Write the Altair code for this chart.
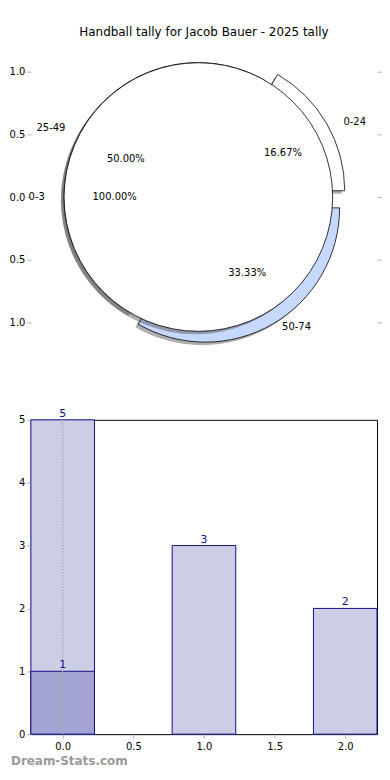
import altair as alt
import pandas as pd

# ---------------- data ----------------
TITLE = "Handball tally for Jacob Bauer - 2025 tally"
WATERMARK = "Dream-Stats.com"

outer_labels = ["0-24", "25-49", "50-74"]
outer_counts = [1, 3, 2]
inner_labels = ["0-3"]
inner_counts = [1]

bar_x = [0, 1, 2]
bar_values = [5, 3, 2]
overlay_x = [0]
overlay_values = [1]

pie_ticks = [-1.0, -0.5, 0.0, 0.5, 1.0]
bar_xticks = [0.0, 0.5, 1.0, 1.5, 2.0]
bar_yticks = [0, 1, 2, 3, 4, 5]

# ---------------- styles ----------------
FONT = "DejaVu Sans"
OUTER_COLORS = ["white", "white", "#c6d8fc"]
INNER_COLORS = ["white"]
OUTER_EXPLODE = [0.1, 0.0, 0.1]
INNER_EXPLODE = [0.0]
RADIUS = 135
BAR_W = 0.45
BAR_FILL = "#cdcde6"
OVERLAY_FILL = "#a4a4d2"
NAVY = "#10108a"
TICK = "#b0b0b0"
W = 348

XS = alt.Scale(domain=[-1.2, 1.28], nice=False, zero=False)
YS = alt.Scale(domain=[-1.2, 1.2], nice=False, zero=False)


def pie_table(labels, counts, colors, explode):
    return pd.DataFrame({
        "label": labels,
        "n": counts,
        "idx": list(range(len(labels))),
        "fill": colors,
        "explode": explode,
    })


def pie_base(df):
    return (
        alt.Chart(df)
        .transform_joinaggregate(total="sum(n)")
        .transform_window(cum="sum(n)", sort=[alt.SortField("idx")], frame=[None, 0])
        .transform_calculate(a0="2*PI*(datum.cum-datum.n)/datum.total")
        .transform_calculate(a1="2*PI*datum.cum/datum.total")
        .transform_calculate(mid="(datum.a0+datum.a1)/2")
        .transform_calculate(t0="PI/2-datum.a1")
        .transform_calculate(t1="PI/2-datum.a0")
        .transform_calculate(cx="datum.explode*cos(datum.mid)")
        .transform_calculate(cy="datum.explode*sin(datum.mid)")
        .transform_calculate(lx="(datum.explode+1.1)*cos(datum.mid)")
        .transform_calculate(ly="(datum.explode+1.1)*sin(datum.mid)")
        .transform_calculate(px="(datum.explode+0.6)*cos(datum.mid)")
        .transform_calculate(py="(datum.explode+0.6)*sin(datum.mid)")
        .transform_calculate(pct="format(datum.n/datum.total, '.2%')")
    )


def pie_layers(base):
    pos = dict(
        x=alt.X("cx:Q", scale=XS, axis=None),
        y=alt.Y("cy:Q", scale=YS, axis=None),
        theta=alt.Theta("t0:Q", scale=None),
        theta2=alt.Theta2("t1"),
    )
    shadow = base.mark_arc(radius=RADIUS, fill="#4d4d4d", opacity=0.45,
                           xOffset=-3, yOffset=3).encode(**pos)
    slices = base.mark_arc(radius=RADIUS, stroke="black", strokeWidth=0.8).encode(
        fill=alt.Fill("fill:N", scale=None), **pos)
    return shadow, slices


def pie_texts(base):
    lab_r = base.transform_filter("cos(datum.mid) > 0").mark_text(
        align="left", baseline="middle", fontSize=10, font=FONT, color="black"
    ).encode(x=alt.X("lx:Q", scale=XS, axis=None), y=alt.Y("ly:Q", scale=YS, axis=None),
             text="label:N")
    lab_l = base.transform_filter("cos(datum.mid) <= 0").mark_text(
        align="right", baseline="middle", fontSize=10, font=FONT, color="black"
    ).encode(x=alt.X("lx:Q", scale=XS, axis=None), y=alt.Y("ly:Q", scale=YS, axis=None),
             text="label:N")
    pct = base.mark_text(align="center", baseline="middle", fontSize=10, font=FONT,
                         color="black").encode(
        x=alt.X("px:Q", scale=XS, axis=None), y=alt.Y("py:Q", scale=YS, axis=None),
        text="pct:N")
    return lab_r, lab_l, pct


outer_base = pie_base(pie_table(outer_labels, outer_counts, OUTER_COLORS, OUTER_EXPLODE))
inner_base = pie_base(pie_table(inner_labels, inner_counts, INNER_COLORS, INNER_EXPLODE))

left_axis = alt.Axis(values=pie_ticks, labelExpr="format(abs(datum.value), '.1f')",
                     domain=False, grid=False, ticks=True, tickColor=TICK, tickSize=4,
                     labelFontSize=10, labelFont=FONT, labelColor="black", labelPadding=2,
                     title=None, minExtent=20)
right_axis = alt.Axis(values=pie_ticks, orient="right", labels=False, domain=False,
                      grid=False, tickColor=TICK, tickSize=4, title=None)

axis_left_layer = outer_base.mark_point(opacity=0).encode(
    x=alt.X("cx:Q", scale=XS, axis=None), y=alt.Y("cy:Q", scale=YS, axis=left_axis))
axis_right_layer = outer_base.mark_point(opacity=0).encode(
    x=alt.X("cx:Q", scale=XS, axis=None), y=alt.Y("cy:Q", scale=YS, axis=right_axis))

o_shadow, o_slices = pie_layers(outer_base)
i_shadow, i_slices = pie_layers(inner_base)

pie = alt.layer(
    axis_left_layer, axis_right_layer,
    o_shadow, o_slices, i_shadow, i_slices,
    *pie_texts(outer_base), *pie_texts(inner_base),
).resolve_axis(y="independent").properties(
    width=W, height=302,
    title=alt.TitleParams(TITLE, fontSize=12, font=FONT, fontWeight="normal",
                          color="black", offset=8, anchor="middle"),
)

# ---------------- bars ----------------
BX = alt.Scale(domain=[-BAR_W / 2, 2 + BAR_W / 2], nice=False, zero=False)
BY = alt.Scale(domain=[0, 5], nice=False)

x_axis = alt.Axis(values=bar_xticks, format=".1f", domain=False, grid=False,
                  tickColor=TICK, tickSize=4, labelFontSize=10, labelFont=FONT,
                  labelColor="black", labelPadding=3, title=None)
y_axis = alt.Axis(values=bar_yticks, format="d", domain=False, grid=False,
                  tickColor=TICK, tickSize=4, labelFontSize=10, labelFont=FONT,
                  labelColor="black", labelPadding=2, title=None, minExtent=20)

bar_df = pd.DataFrame({"x": bar_x, "v": bar_values})
over_df = pd.DataFrame({"x": overlay_x, "v": overlay_values})


def bar_layer(df, fill):
    return alt.Chart(df).transform_calculate(
        x0=f"datum.x-{BAR_W / 2}", x1=f"datum.x+{BAR_W / 2}"
    ).mark_bar(fill=fill, stroke=NAVY, strokeWidth=1).encode(
        x=alt.X("x0:Q", scale=BX, axis=x_axis),
        x2=alt.X2("x1"),
        y=alt.Y("v:Q", scale=BY, axis=y_axis),
        y2=alt.Y2(datum=0),
    )


def bar_text(df):
    return alt.Chart(df).mark_text(baseline="bottom", dy=-1, fontSize=11, font=FONT,
                                   color=NAVY).encode(
        x=alt.X("x:Q", scale=BX, axis=x_axis), y=alt.Y("v:Q", scale=BY, axis=y_axis),
        text="v:Q")


rule = alt.Chart(bar_df).mark_rule(color="#aaaaaa", strokeDash=[1, 2]).encode(
    x=alt.X(datum=0, scale=BX, axis=x_axis))

bars = alt.layer(
    bar_layer(bar_df, BAR_FILL),
    bar_layer(over_df, OVERLAY_FILL),
    rule,
    bar_text(bar_df),
    bar_text(over_df),
).properties(
    width=W, height=316,
    view=alt.ViewBackground(stroke="black", strokeWidth=1),
    title=alt.TitleParams(WATERMARK, orient="bottom", anchor="start", frame="bounds",
                          color="#9a9a9a", fontSize=12, font=FONT, fontWeight="bold",
                          offset=5),
)

chart = alt.vconcat(pie, bars, spacing=73, bounds="flush").properties(
    padding={"top": 15, "left": 0, "right": 0, "bottom": 0}
).configure_view(stroke="transparent")

chart.save("out.html", embed_options={"renderer": "svg", "actions": False})
